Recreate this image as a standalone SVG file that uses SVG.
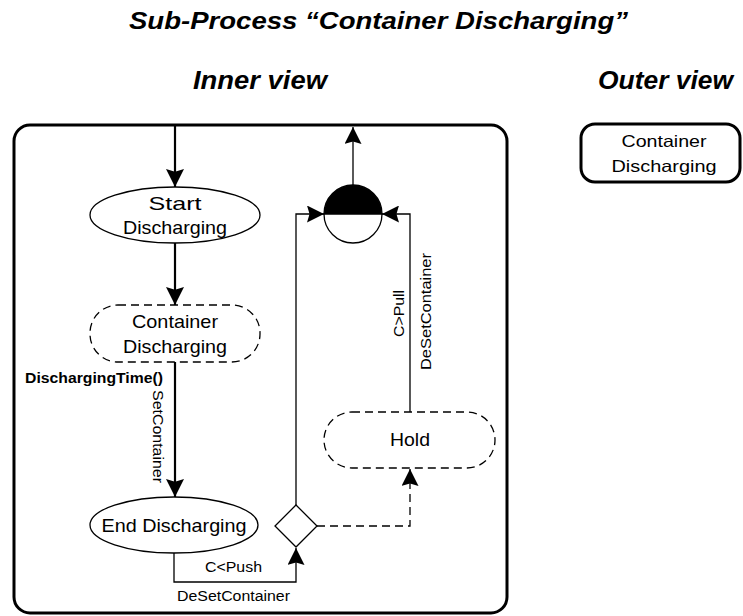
<svg xmlns="http://www.w3.org/2000/svg" width="743" height="616" viewBox="0 0 743 616">
<style>
text{font-family:"Liberation Sans",Arial,sans-serif;fill:#000}
.h{font-weight:bold;font-style:italic}
.n{font-size:18.5px;text-anchor:middle}
.s{font-size:14px}
.node{fill:#fff;stroke:#000;stroke-width:1.3}
.dash{stroke-dasharray:8,5}
.thick{fill:none;stroke:#000;stroke-width:2.2}
.thin{fill:none;stroke:#000;stroke-width:1.3}
</style>
<defs>
<marker id="ab" viewBox="0 0 10 10" refX="10" refY="5" markerWidth="18" markerHeight="18" markerUnits="userSpaceOnUse" orient="auto"><path d="M0,0 L10,5 L0,10 L1.5,5 z" fill="#000"/></marker>
<marker id="as" viewBox="0 0 10 10" refX="10" refY="5" markerWidth="17" markerHeight="17" markerUnits="userSpaceOnUse" orient="auto"><path d="M0,0 L10,5 L0,10 L1.5,5 z" fill="#000"/></marker>
</defs>
<text class="h" x="129" y="29" font-size="23" textLength="499" lengthAdjust="spacingAndGlyphs">Sub-Process “Container Discharging”</text>
<text class="h" x="193" y="89" font-size="25" textLength="134" lengthAdjust="spacingAndGlyphs">Inner view</text>
<text class="h" x="598" y="89" font-size="25" textLength="135" lengthAdjust="spacingAndGlyphs">Outer view</text>
<g id="container">
<rect x="14" y="125" width="493" height="488" rx="16" fill="none" stroke="#000" stroke-width="3"/>
</g>
<g id="outer">
<rect x="581" y="124" width="159" height="58" rx="14" fill="#fff" stroke="#000" stroke-width="3"/>
<text x="664" y="147" font-size="16.5" text-anchor="middle" textLength="85" lengthAdjust="spacingAndGlyphs">Container</text>
<text x="664" y="172" font-size="16.5" text-anchor="middle" textLength="105" lengthAdjust="spacingAndGlyphs">Discharging</text>
</g>
<g id="connectors">
<line class="thick" x1="175" y1="125" x2="175" y2="187" marker-end="url(#ab)"/>
<line class="thick" x1="175" y1="243" x2="175" y2="305" marker-end="url(#ab)"/>
<line class="thick" x1="175" y1="362" x2="175" y2="497" marker-end="url(#ab)"/>
<polyline class="thin" points="174,553 174,582 296,582 296,548" marker-end="url(#as)"/>
<polyline class="thin" points="296,505 296,214 324,214" marker-end="url(#as)"/>
<polyline class="thin" points="410,412 410,214 382,214" marker-end="url(#as)"/>
<line class="thin" x1="353" y1="185" x2="353" y2="127" marker-end="url(#as)"/>
<polyline class="thin dash" points="317,526 410,526 410,469" marker-end="url(#as)"/>
<text class="s" x="25" y="383" font-weight="bold" textLength="138" lengthAdjust="spacingAndGlyphs">DischargingTime()</text>
<text class="s" x="0" y="0" transform="translate(153,390) rotate(90)" textLength="93" lengthAdjust="spacingAndGlyphs">SetContainer</text>
<text class="s" x="205" y="572" textLength="57" lengthAdjust="spacingAndGlyphs">C&lt;Push</text>
<text class="s" x="177" y="601" textLength="113" lengthAdjust="spacingAndGlyphs">DeSetContainer</text>
<text class="s" x="0" y="0" transform="translate(404,337) rotate(-90)" textLength="47" lengthAdjust="spacingAndGlyphs">C&gt;Pull</text>
<text class="s" x="0" y="0" transform="translate(431,370) rotate(-90)" textLength="117" lengthAdjust="spacingAndGlyphs">DeSetContainer</text>
</g>
<g id="start">
<ellipse class="node" cx="175" cy="215" rx="85" ry="28"/>
<text class="n" x="175" y="210" textLength="53" lengthAdjust="spacingAndGlyphs">Start</text>
<text class="n" x="175" y="234" textLength="104" lengthAdjust="spacingAndGlyphs">Discharging</text>
</g>
<g id="discharging">
<rect class="node dash" x="90" y="305" width="170" height="57" rx="28"/>
<text class="n" x="175" y="328" textLength="86" lengthAdjust="spacingAndGlyphs">Container</text>
<text class="n" x="175" y="353" textLength="104" lengthAdjust="spacingAndGlyphs">Discharging</text>
</g>
<g id="end">
<ellipse class="node" cx="174" cy="525" rx="84" ry="28"/>
<text class="n" x="174" y="532" textLength="145" lengthAdjust="spacingAndGlyphs">End Discharging</text>
</g>
<g id="decision">
<polygon class="node" points="296,505 317,526 296,547 275,526"/>
</g>
<g id="hold">
<rect class="node dash" x="324" y="412" width="171" height="56" rx="28"/>
<text class="n" x="410" y="446" textLength="40" lengthAdjust="spacingAndGlyphs">Hold</text>
</g>
<g id="merge">
<path d="M324,214 A29,29 0 0 1 382,214 Z" fill="#000" stroke="#000" stroke-width="1.3"/>
<path d="M324,214 A29,29 0 0 0 382,214 Z" fill="#fff" stroke="#000" stroke-width="1.3"/>
</g>
</svg>
